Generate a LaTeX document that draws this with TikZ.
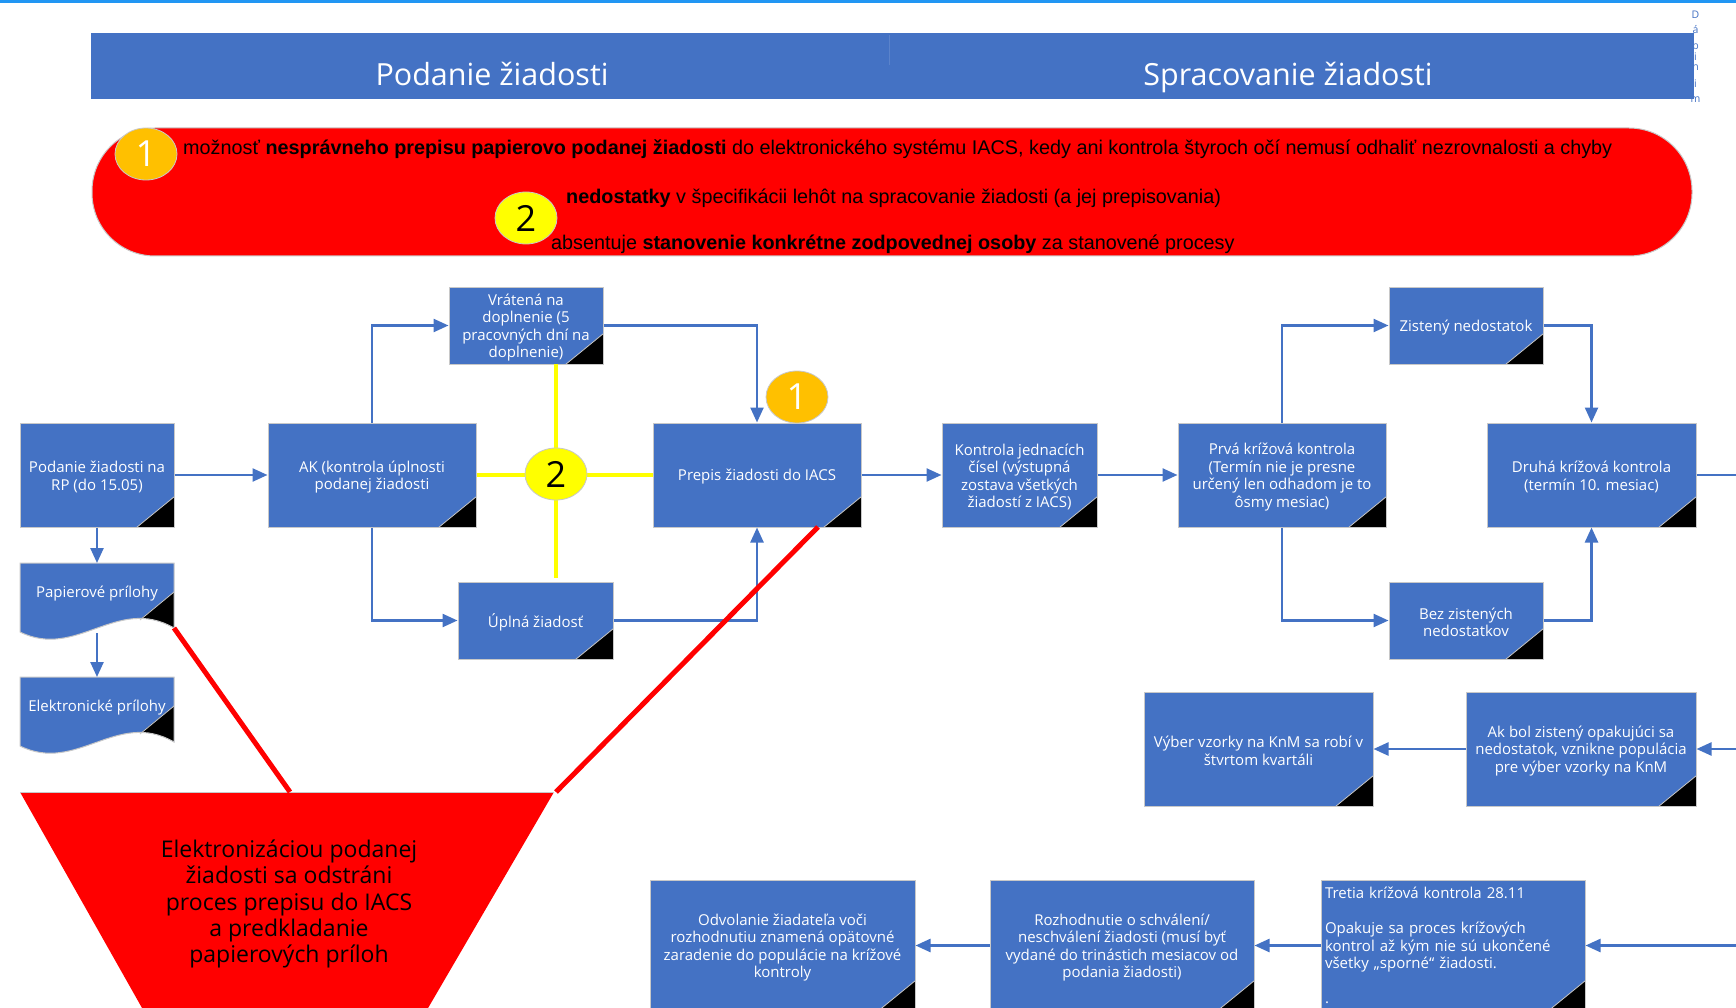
\documentclass[tikz,border=0pt]{standalone}
\usepackage{fontspec}
\newfontfamily\osans{Open Sans}
\newfontfamily\arialf{Liberation Sans}
\usetikzlibrary{arrows.meta,shapes.geometric,calc}
\definecolor{boxblue}{RGB}{68,114,196}
\definecolor{boxedge}{RGB}{200,200,200}
\definecolor{topblue}{RGB}{33,150,243}
\definecolor{circorange}{RGB}{255,192,0}
\definecolor{circyellow}{RGB}{255,255,0}
\definecolor{pillred}{RGB}{255,0,0}
\tikzset{
  box/.style={draw=boxedge, fill=boxblue, line width=1pt, text=white, align=center, inner sep=2pt, font={\osans\fontsize{15}{17.5}\selectfont}},
  boxtxt/.style={text=white, align=center, inner sep=0pt, font={\osans\fontsize{15}{17.5}\selectfont}},
  corner/.style={fill=black, draw=boxedge, line width=0.8pt},
  conn/.style={draw=boxblue, line width=2.4pt, -{Triangle[length=15pt,width=13pt]}},
  connline/.style={draw=boxblue, line width=2.4pt},
  yline/.style={draw=circyellow, line width=4.5pt},
  rline/.style={draw=pillred, line width=5pt},
  numcirc/.style={ellipse, draw=boxedge, line width=0.8pt, minimum width=62pt, minimum height=52pt, inner sep=0pt, font={\osans\fontsize{36}{36}\selectfont}},
  pilltxt/.style={anchor=base west, inner sep=0pt, text=black, font={\arialf\fontsize{19.8}{22}\selectfont}},
  hdrtxt/.style={anchor=base, inner sep=0pt, text=white, font={\osans\fontsize{30.5}{33}\selectfont}},
  vlet/.style={inner sep=0pt, text=boxblue, font={\osans\fontsize{10.5}{10.5}\selectfont}},
}
\newcommand\pbox[6]{%
  \node[box, minimum width={(#4-#2)*1pt}, minimum height={(#5-#3)*1pt}] (#1) at ({(#2+#4)/2},{(#3+#5)/2}) {};
  \node[boxtxt] (#1t) at ({(#2+#4)/2},{(#3+#5)/2+2}) {#6};
  \filldraw[corner] (#1.south east) ++(0,-31) -- ++(0,31) -- ++(-38,0) -- cycle;
}
\newcommand\docpath[3]{(#1,#2) -- (#3,#2) -- (#3,#2+65) .. controls (#1+97,#2+32) and (#1+57,#2+97) .. (#1,#2+69) -- cycle}
\begin{document}
\begin{tikzpicture}[x=1pt,y=-1pt]
\useasboundingbox (0,0) rectangle (1736,1008);
\fill[white] (0,0) rectangle (1736,1008);
% top line
\fill[topblue] (0,0) rectangle (1736,3.5);
% vertical letters (partly hidden)
\foreach \l/\yy in {D/15,á/30,b/46,i/57,n/68,i/84,m/100}
  \node[vlet] (v\yy) at (1695.5,\yy) {\l};
% header bar
\node[fill=boxblue, minimum width=1603pt, minimum height=66pt, inner sep=0pt] (hdr) at (892.5,66) {};
\draw[boxblue!88!white, line width=1pt] (889,35) -- (889,65);
\node[hdrtxt] (h1) at (492,86) {Podanie žiadosti};
\node[hdrtxt] (h2) at (1288,86) {Spracovanie žiadosti};
% red pill
\filldraw[fill=pillred, draw=boxedge, line width=1pt, rounded corners=63pt] (92,128) rectangle (1692,256);
\node[numcirc, fill=circorange, text=white] (c1a) at (146,154) {1};
\node[pilltxt] (p1) at (183,154.5) {možnosť \textbf{nesprávneho prepisu papierovo podanej žiadosti} do elektronického systému IACS, kedy ani kontrola štyroch očí nemusí odhaliť nezrovnalosti a chyby};
\node[numcirc, fill=circyellow, text=black] (c2a) at (526,218) {2};
\node[pilltxt] (p2) at (566,203.5) {\textbf{nedostatky} v špecifikácii lehôt na spracovanie žiadosti (a jej prepisovania)};
\node[pilltxt] (p3) at (551,249.5) {absentuje \textbf{stanovenie konkrétne zodpovednej osoby} za stanovené procesy};
% boxes
\pbox{B1}{20}{423}{174}{527}{Podanie žiadosti na\\RP (do 15.05)}
\pbox{B2}{268}{423}{476}{527}{AK (kontrola úplnosti\\podanej žiadosti}
\pbox{B3}{449}{287}{603}{364}{Vrátená na\\doplnenie (5\\pracovných dní na\\doplnenie)}
\pbox{B4}{458}{582}{613}{659}{Úplná žiadosť}
\pbox{B5}{653}{423}{861}{527}{Prepis žiadosti do IACS}
\pbox{B6}{942}{423}{1097}{527}{Kontrola jednacích\\čísel (výstupná\\zostava všetkých\\žiadostí z IACS)}
\pbox{B7}{1178}{423}{1386}{527}{Prvá krížová kontrola\\(Termín nie je presne\\určený len odhadom je to\\ôsmy mesiac)}
\pbox{B8}{1389}{287}{1543}{364}{Zistený nedostatok}
\pbox{B9}{1389}{582}{1543}{659}{Bez zistených\\nedostatkov}
\pbox{B10}{1487}{423}{1696}{527}{Druhá krížová kontrola\\(termín 10. mesiac)}
\pbox{B11}{1466}{692}{1696}{806}{Ak bol zistený opakujúci sa\\nedostatok, vznikne populácia\\pre výber vzorky na KnM}
\pbox{B12}{1144}{692}{1373}{806}{Výber vzorky na KnM sa robí v\\štvrtom kvartáli}
\node[box, align=left, text width=256pt, inner sep=4pt, minimum width=264pt, minimum height=131pt] (B13) at (1453,945.5) {Tretia krížová kontrola 28.11\\[17.5pt]Opakuje sa proces krížových\\kontrol až kým nie sú ukončené\\všetky „sporné“ žiadosti.\\[17.5pt].};
\filldraw[corner] (B13.south east) ++(0,-31) -- ++(0,31) -- ++(-38,0) -- cycle;
\pbox{B14}{990}{880}{1254}{1011}{Rozhodnutie o schválení/\\neschválení žiadosti (musí byť\\vydané do trinástich mesiacov od\\podania žiadosti)}
\pbox{B15}{650}{880}{915}{1011}{Odvolanie žiadateľa voči\\rozhodnutiu znamená opätovné\\zaradenie do populácie na krížové\\kontroly}
% document shapes
\fill[boxblue] \docpath{20}{563}{174};
\begin{scope}
  \clip \docpath{20}{563}{174};
  \fill[black] (174,592) -- (174,670) -- (78,670) -- cycle;
\end{scope}
\draw[boxedge, line width=1pt] \docpath{20}{563}{174};
\draw[boxedge, line width=0.8pt] (174,592) -- (140,620);
\node[boxtxt] (pap) at (97,594) {Papierové prílohy};
\fill[boxblue] \docpath{20}{677}{174};
\begin{scope}
  \clip \docpath{20}{677}{174};
  \fill[black] (174,706) -- (174,784) -- (78,784) -- cycle;
\end{scope}
\draw[boxedge, line width=1pt] \docpath{20}{677}{174};
\draw[boxedge, line width=0.8pt] (174,706) -- (140,734);
\node[boxtxt] (elek) at (97,708) {Elektronické prílohy};
\coordinate (papT) at (97,563);
\coordinate (papB) at (97,633);
\coordinate (elekT) at (97,677);
% connectors
\draw[conn] (B1.south) -- (papT);
\draw[conn] (papB) -- (elekT);
\draw[conn] (B1.east) -- (B2.west);
\draw[conn] (B2.north) |- (B3.west);
\draw[conn] (B2.south) |- (B4.west);
\draw[conn] (B3.east) -| (B5.north);
\draw[conn] (B4.east) -| (B5.south);
\draw[conn] (B5.east) -- (B6.west);
\draw[conn] (B6.east) -- (B7.west);
\draw[conn] (B7.north) |- (B8.west);
\draw[conn] (B7.south) |- (B9.west);
\draw[conn] (B8.east) -| (B10.north);
\draw[conn] (B9.east) -| (B10.south);
\coordinate (outR1) at (1740,475);
\coordinate (inR2) at (1740,749);
\coordinate (inR3) at (1740,945.5);
\draw[connline] (B10.east) -- (outR1);
\draw[conn] (inR2) -- (B11.east);
\draw[conn] (B11.west) -- (B12.east);
\draw[conn] (inR3) -- (B13.east);
\draw[conn] (B13.west) -- (B14.east);
\draw[conn] (B14.west) -- (B15.east);
% yellow cross
\coordinate (yT) at (556,364);
\coordinate (yB) at (556,578);
\draw[yline] (B2.east) -- (B5.west);
\draw[yline] (yT) -- (yB);
\node[numcirc, fill=circyellow, text=black] (c2b) at (556,474) {2};
\node[numcirc, fill=circorange, text=white] (c1b) at (797,397) {1};
% red funnel
\fill[pillred] (20,792) -- (554,792) -- (424,1015) -- (146,1015) -- cycle;
\draw[boxedge, line width=0.8pt] (20,792) -- (554,792);
\node[align=center, inner sep=0pt, text=black, font={\osans\fontsize{23}{26.2}\selectfont}] (funtxt) at (289,904) {Elektronizáciou podanej\\žiadosti sa odstráni\\proces prepisu do IACS\\a predkladanie\\papierových príloh};
\coordinate (papR) at (174,628);
\coordinate (trapL) at (290,792);
\coordinate (prepR) at (818,527);
\coordinate (trapR) at (556,792);
\draw[rline] (papR) -- (trapL);
\draw[rline] (prepR) -- (trapR);
\end{tikzpicture}
\end{document}
